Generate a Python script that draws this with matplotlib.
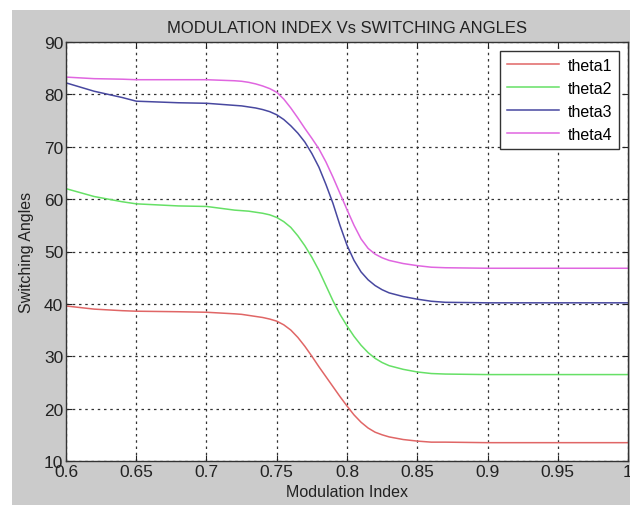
import matplotlib.pyplot as plt
from matplotlib.patches import Rectangle

plt.rcParams["font.family"] = ["Liberation Sans", "DejaVu Sans"]

# modulation index samples
mod_index = [0.60, 0.62, 0.64, 0.65, 0.68, 0.70,
             0.720, 0.725, 0.730, 0.735, 0.740, 0.745, 0.750, 0.755,
             0.760, 0.765, 0.770, 0.775, 0.780, 0.785, 0.790, 0.795,
             0.800, 0.805, 0.810, 0.815, 0.820, 0.825, 0.830, 0.840,
             0.850, 0.860,
             0.87, 0.90, 0.95, 1.00]

# switching angles (degrees)
theta1 = [39.6, 39.0, 38.7, 38.6, 38.5, 38.4,
          38.1, 38.0, 37.8, 37.6, 37.4, 37.1, 36.7, 36.0,
          35.0, 33.6, 31.9, 30.0, 28.0, 26.1, 24.2, 22.3,
          20.5, 18.8, 17.4, 16.3, 15.5, 15.0, 14.6, 14.1,
          13.8, 13.6,
          13.6, 13.5, 13.5, 13.5]
theta2 = [62.0, 60.5, 59.5, 59.1, 58.7, 58.6,
          57.9, 57.8, 57.7, 57.5, 57.3, 57.0, 56.5, 55.7,
          54.6, 53.0, 51.1, 48.9, 46.4, 43.5, 40.6, 38.0,
          35.8, 33.8, 32.1, 30.7, 29.6, 28.8, 28.2, 27.5,
          27.0, 26.7,
          26.6, 26.5, 26.5, 26.5]
theta3 = [82.2, 80.6, 79.4, 78.7, 78.4, 78.3,
          77.9, 77.8, 77.6, 77.4, 77.1, 76.7, 76.1, 75.2,
          74.0, 72.6, 70.9, 68.7, 66.1, 62.8, 59.2, 55.0,
          51.2, 48.3, 46.1, 44.6, 43.5, 42.7, 42.1, 41.4,
          40.9, 40.5,
          40.3, 40.2, 40.2, 40.2]
theta4 = [83.3, 83.0, 82.9, 82.8, 82.8, 82.8,
          82.6, 82.5, 82.3, 82.0, 81.6, 81.1, 80.4, 79.1,
          77.4, 75.5, 73.5, 71.6, 69.6, 67.1, 64.2, 61.1,
          58.0, 55.0, 52.4, 50.6, 49.5, 48.8, 48.3, 47.7,
          47.3, 47.0,
          46.9, 46.8, 46.8, 46.8]

series = [("theta1", theta1, "#e06666"),
          ("theta2", theta2, "#66e066"),
          ("theta3", theta3, "#4848a0"),
          ("theta4", theta4, "#e066e0")]

x_ticks = [0.6, 0.65, 0.7, 0.75, 0.8, 0.85, 0.9, 0.95, 1]
x_labels = ["0.6", "0.65", "0.7", "0.75", "0.8", "0.85", "0.9", "0.95", "1"]
y_ticks = [10, 20, 30, 40, 50, 60, 70, 80, 90]

fig = plt.figure(figsize=(6.3, 5.06), dpi=100, facecolor="white")
fig.patches.append(Rectangle((12 / 630, 0), 1, 1 - 11 / 506,
                             transform=fig.transFigure, facecolor="#cbcbcb",
                             edgecolor="none", zorder=-10))
ax = fig.add_axes([66 / 630, 1 - 462 / 506, (628 - 66) / 630, (462 - 43) / 506])
ax.set_zorder(5)
ax.set_facecolor("white")

for name, vals, color in series:
    ax.plot(mod_index, vals, color=color, linewidth=1.1, label=name)

ax.set_xlim(0.6, 1)
ax.set_ylim(10, 90)
ax.set_xticks(x_ticks)
ax.set_xticklabels(x_labels)
ax.set_yticks(y_ticks)
ax.tick_params(direction="in", top=True, right=True, length=4,
               labelsize=12.5, colors="#222222", pad=2)
ax.grid(True, color="#333333", linestyle=(0, (2, 3)), linewidth=0.9)
for sp in ax.spines.values():
    sp.set_color("#333333")
    sp.set_linewidth(1.0)

ax.set_title("MODULATION INDEX Vs SWITCHING ANGLES", fontsize=12,
             color="#222222", pad=7)
ax.set_xlabel("Modulation Index", fontsize=11.5, color="#222222", labelpad=4)
ax.set_ylabel("Switching Angles", fontsize=11.5, color="#222222", labelpad=7)

leg = ax.legend(loc="upper right", fontsize=11.5, fancybox=False,
                framealpha=1, edgecolor="#333333", handlelength=3.3,
                borderaxespad=0.55, labelspacing=0.5, handletextpad=0.5,
                borderpad=0.45)
leg.get_frame().set_linewidth(1.0)

plt.savefig("out.png", dpi=100, facecolor=fig.get_facecolor())
